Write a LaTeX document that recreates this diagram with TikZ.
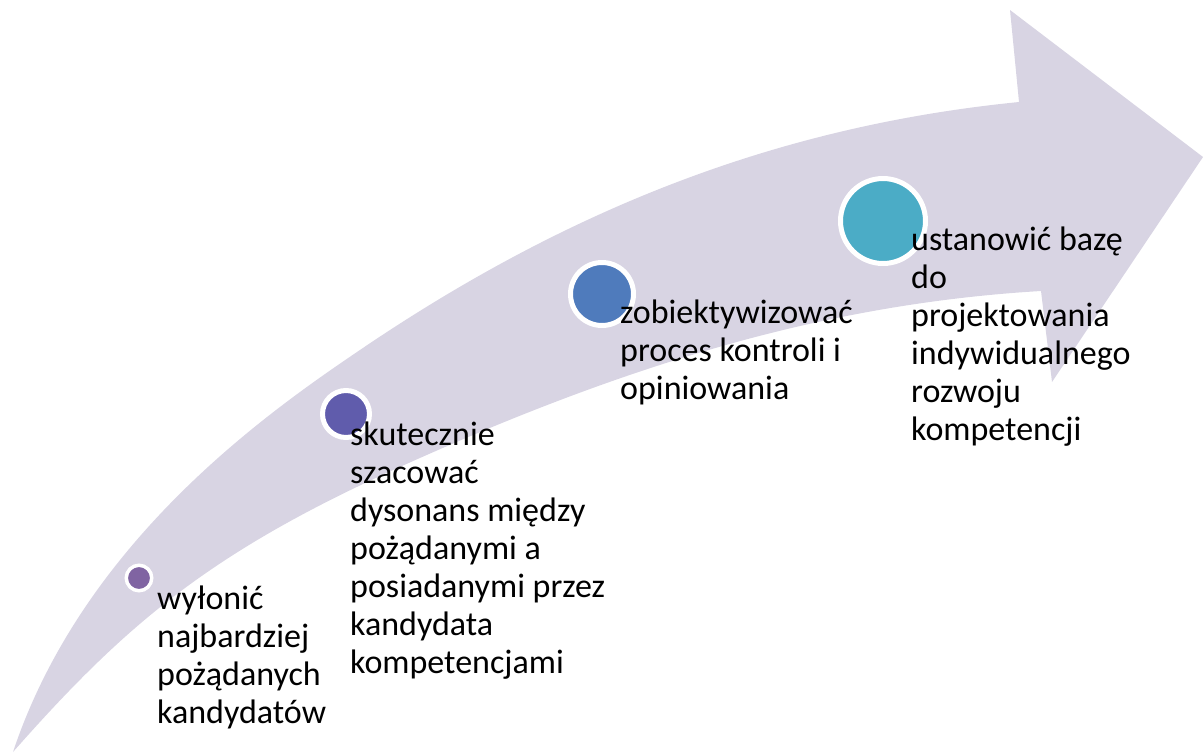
\documentclass[tikz,border=0pt]{standalone}
\usepackage{fontspec}
\setmainfont{Carlito}
\definecolor{arrowfill}{HTML}{D8D4E3}
\definecolor{cone}{HTML}{8064A2}
\definecolor{ctwo}{HTML}{605CAC}
\definecolor{cthree}{HTML}{4F7BBC}
\definecolor{cfour}{HTML}{4BACC6}
\begin{document}
\begin{tikzpicture}[x=1pt,y=-1pt,
  dot/.style={circle,draw=white,inner sep=0pt},
  label/.style={anchor=base west,inner sep=0pt,font=\fontsize{34}{38}\selectfont,text=black}]
\useasboundingbox (0,0) rectangle (1203,753);
\fill[arrowfill] (13,752)
  .. controls (83,542) and (267,413) .. (357,352)
  .. controls (577,202) and (789,125) .. (1019,102)
  -- (1010,10) -- (1203,157) -- (1052,382) -- (1041,291)
  .. controls (821,304) and (622,367) .. (402,466)
  .. controls (210,552) and (125,625) .. (13,752) -- cycle;
\node[dot,fill=cone,line width=3.5pt,minimum size=25.5pt] (c1) at (139,578) {};
\node[dot,fill=ctwo,line width=5pt,minimum size=47pt] (c2) at (346,414) {};
\node[dot,fill=cthree,line width=5pt,minimum size=63pt] (c3) at (602,294) {};
\node[dot,fill=cfour,line width=5pt,minimum size=85pt] (c4) at (883,221) {};
\node[label] (t1) at (157,609) {\begin{tabular}[t]{@{}l@{}}wyłonić\\najbardziej\\pożądanych\\kandydatów\end{tabular}};
\node[label] (t2) at (350,445) {\begin{tabular}[t]{@{}l@{}}skutecznie\\szacować\\dysonans między\\pożądanymi a\\posiadanymi przez\\kandydata\\kompetencjami\end{tabular}};
\node[label] (t3) at (620,323) {\begin{tabular}[t]{@{}l@{}}zobiektywizować\\proces kontroli i\\opiniowania\end{tabular}};
\node[label] (t4) at (911,250) {\begin{tabular}[t]{@{}l@{}}ustanowić bazę\\do\\projektowania\\indywidualnego\\rozwoju\\kompetencji\end{tabular}};
\end{tikzpicture}
\end{document}
